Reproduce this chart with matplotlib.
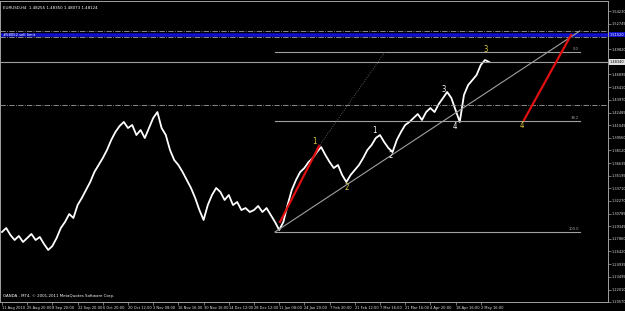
import matplotlib.pyplot as plt

# EURUSD H4, one price read every 10 bars
bar_idx = list(range(0, 1170, 10))
prices = [
    1.2867, 1.2913, 1.2832, 1.2774, 1.2821, 1.2751, 1.2797, 1.2844, 1.2774, 1.2809,
    1.2728, 1.2659, 1.2705, 1.2797, 1.2913, 1.2983, 1.3075, 1.3029, 1.3179, 1.3260,
    1.3353, 1.3445, 1.3561, 1.3642, 1.3723, 1.3816, 1.3931, 1.4024, 1.4093, 1.4140,
    1.4070, 1.4105, 1.3989, 1.4047, 1.3954, 1.4070, 1.4186, 1.4255, 1.4070, 1.3989,
    1.3816, 1.3700, 1.3642, 1.3561, 1.3468, 1.3376, 1.3260, 1.3121, 1.3006, 1.3179,
    1.3295, 1.3376, 1.3330, 1.3237, 1.3295, 1.3179, 1.3214, 1.3121, 1.3144, 1.3098,
    1.3121, 1.3168, 1.3098, 1.3144, 1.3063, 1.2983, 1.2890, 1.2983, 1.3179, 1.3353,
    1.3468, 1.3561, 1.3607, 1.3677, 1.3723, 1.3792, 1.3850, 1.3758, 1.3677, 1.3607,
    1.3642, 1.3526, 1.3445, 1.3526, 1.3584, 1.3642, 1.3723, 1.3816, 1.3873, 1.3954,
    1.3989, 1.3908, 1.3839, 1.3792, 1.3931, 1.4024, 1.4105, 1.4140, 1.4186, 1.4232,
    1.4163, 1.4255, 1.4301, 1.4255, 1.4348, 1.4417, 1.4487, 1.4417, 1.4278, 1.4140,
    1.4452, 1.4568, 1.4625, 1.4683, 1.4799, 1.4857, 1.4834,
]

# right price scale (two of them sit under the price boxes)
price_ticks = [1.54230, 1.52745, 1.51305, 1.49820, 1.48380, 1.46895, 1.45410, 1.43970,
               1.42485, 1.41045, 1.39560, 1.38120, 1.36635, 1.35195, 1.33710, 1.32270,
               1.30785, 1.29345, 1.27860, 1.26420, 1.24935, 1.23495, 1.22010, 1.20570]
covered_ticks = [1.51305, 1.48380]

# time scale
time_ticks = list(range(0, 1200, 60))
time_labels = ["11 Aug 2010", "25 Aug 20:00", "8 Sep 20:00", "22 Sep 20:00", "6 Oct 20:00",
               "20 Oct 12:00", "3 Nov 08:00", "16 Nov 16:00", "30 Nov 16:00", "14 Dec 12:00",
               "28 Dec 12:00", "11 Jan 08:00", "24 Jan 20:00", "7 Feb 20:00", "21 Feb 12:00",
               "7 Mar 16:00", "21 Mar 16:00", "4 Apr 20:00", "18 Apr 16:00", "2 May 16:00"]

# objects on chart
bid = 1.4834
sell_limit = 1.5152
sell_limit_bands = [1.5193, 1.5120]
mid_dashdot = 1.4336
fib_x = [650, 1376]
fib_levels = [1.4950, 1.4154, 1.2867]
fib_names = ["0.0", "38.2", "100.0"]
trend_x, trend_y = [650, 1376], [1.2867, 1.5193]
red1_x, red1_y = [662, 755], [1.2983, 1.3862]
dot_x, dot_y = [757, 912], [1.3874, 1.4950]
red2_x, red2_y = [1243, 1355], [1.4163, 1.5146]

# wave counts: (bar, price, text)
yellow_waves = [(745, 1.3915, "1"), (821, 1.3380, "2"), (1152, 1.4980, "3"), (1238, 1.4100, "4")]
white_waves = [(886, 1.4040, "1"), (926, 1.3750, "2"), (1052, 1.4520, "3"), (1079, 1.4090, "4")]

grey = "#a0a0a0"

plt.rcParams['font.family'] = ["DejaVu Sans"]
plt.rcParams['font.stretch'] = "condensed"

fig = plt.figure(figsize=(6.25, 3.11), dpi=100, facecolor="black")
ax = fig.add_axes([0.0, 0.029, 0.9728, 0.9678])
ax.set_facecolor("black")

ax.plot(bar_idx, prices, color="white", lw=1.3)

ax.axhline(sell_limit, color="#1010c8", lw=2.6)
for lvl in sell_limit_bands:
    ax.axhline(lvl, color=grey, lw=0.6, ls="-.")
ax.axhline(mid_dashdot, color=grey, lw=0.6, ls="-.")
ax.axhline(bid, color=grey, lw=0.8)

for lvl, name in zip(fib_levels, fib_names):
    ax.plot(fib_x, [lvl, lvl], color=grey, lw=0.8)
    ax.text(fib_x[1] - 2, lvl + 0.0012, name, color=grey, fontsize=3.0,
            ha="right", va="bottom")

ax.plot(trend_x, trend_y, color=grey, lw=0.8)
ax.plot(red1_x, red1_y, color="#e01010", lw=1.6)
ax.plot(red2_x, red2_y, color="#e01010", lw=1.6)
ax.plot(dot_x, dot_y, color="#707070", lw=0.6, ls=":")

for x, y, t in yellow_waves:
    ax.text(x, y, t, color="#e0d040", fontsize=5.5, ha="center", va="center")
for x, y, t in white_waves:
    ax.text(x, y, t, color="white", fontsize=5.5, ha="center", va="center")

ax.set_xlim(-4.8, 1443)
ax.set_ylim(1.2057, 1.5540)

ax.yaxis.tick_right()
ax.set_yticks(price_ticks)
ax.set_yticklabels(["" if v in covered_ticks else f"{v:.5f}" for v in price_ticks])
ax.set_xticks(time_ticks)
ax.set_xticklabels(time_labels, ha="left")
ax.tick_params(colors=grey, labelcolor="#e0e0e0", labelsize=2.8, length=2, width=0.5, pad=0.8)
ax.tick_params(axis="x", labelsize=2.9)

for s in ax.spines.values():
    s.set_color(grey)
    s.set_linewidth(0.7)

# price boxes on the scale
ax.text(1.003, sell_limit, f"{sell_limit:.5f}", transform=ax.get_yaxis_transform(),
        color="white", fontsize=2.8, va="center",
        bbox=dict(facecolor="#1010c8", edgecolor="none", pad=0.5))
ax.text(1.003, bid, f"{bid:.5f}", transform=ax.get_yaxis_transform(),
        color="black", fontsize=2.8, va="center",
        bbox=dict(facecolor="#e0e0e0", edgecolor="none", pad=0.5))

ax.text(0.005, 0.985, "EURUSD,H4  1.48255 1.48350 1.48073 1.48124", transform=ax.transAxes,
        color="white", fontsize=3.2, va="top")
ax.text(0.005, sell_limit, "#58052 sell limit", transform=ax.get_yaxis_transform(),
        color="white", fontsize=3.0, va="center")
ax.text(0.005, 0.012, "OANDA - MT4, \u00a9 2001-2011 MetaQuotes Software Corp.",
        transform=ax.transAxes, color="white", fontsize=3.2, va="bottom")

fig.savefig("out.png", dpi=100, facecolor="black")
